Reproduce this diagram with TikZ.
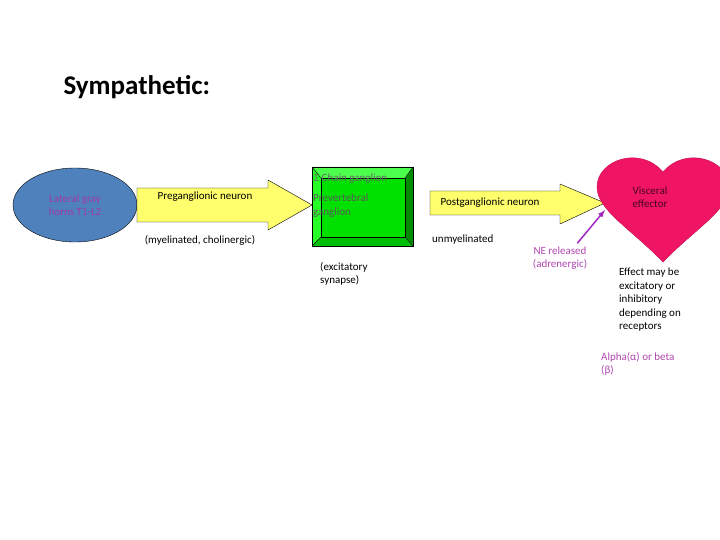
\documentclass[tikz,border=0pt]{standalone}
\usepackage{fontspec}
\setmainfont{Carlito}
\usetikzlibrary{shapes.geometric}
\definecolor{hornblue}{RGB}{79,129,189}
\definecolor{hornpink}{RGB}{160,60,160}
\definecolor{armyellow}{RGB}{255,255,110}
\definecolor{gangreen}{RGB}{0,225,0}
\definecolor{heartred}{RGB}{240,20,100}
\definecolor{nepurple}{RGB}{160,40,190}
\definecolor{notepurple}{RGB}{175,70,175}
\begin{document}
\begin{tikzpicture}[x=1pt,y=-1pt,
	txt/.style = {font=\fontsize{11}{13.5}\selectfont, align=left, inner sep=0pt},
	fibre/.style = {draw, fill=armyellow}]

	\useasboundingbox (0,0) rectangle (720,540);

	\node [font=\fontsize{27}{32}\selectfont\bfseries, anchor=west] (title) at (60,87) {Sympathetic:};

	\node [ellipse, draw, fill=hornblue, minimum width=124pt, minimum height=74pt,
		text=hornpink, txt, align=center] (horn) at (75,205) {Lateral gray\\horns T1-L2};

	% preganglionic arrow
	\draw [fibre] (137,188) -- (268,188) -- (268,180) -- (312,205) -- (268,230)
		-- (268,222) -- (137,222) -- cycle;
	\node [txt] (prelab) at (205,197) {Preganglionic neuron};
	\node [txt] (myel) at (200,240) {(myelinated, cholinergic)};

	% ganglion box with bevel
	\fill [green!70!white] (312,167) -- (413,167) -- (405,178) -- (321,178) -- cycle;
	\fill [green!55!black] (413,167) -- (413,246) -- (405,237) -- (405,178) -- cycle;
	\fill [green!75!black] (312,246) -- (413,246) -- (405,237) -- (321,237) -- cycle;
	\fill [green!85!white] (312,167) -- (321,178) -- (321,237) -- (312,246) -- cycle;
	\node [draw, fill=gangreen, minimum width=84pt, minimum height=59pt, inner sep=0pt] (gang) at (363,207.5) {};
	\draw (312,167) rectangle (413,246);
	\draw (312,167) -- (gang.north west) (413,167) -- (gang.north east)
		(312,246) -- (gang.south west) (413,246) -- (gang.south east);
	\node [txt, text=gray!80!black, anchor=west] (chain) at (314,179) {Σ Chain ganglion};
	\node [txt, text=gray!70!black, anchor=north west] (prev) at (313,194) {Prevertebral\\ganglion};
	\node [txt, anchor=north west] (synapse) at (320,262) {(excitatory\\synapse)};

	% postganglionic arrow
	\draw [fibre] (430,191) -- (560,191) -- (560,184) -- (605,203) -- (560,224)
		-- (560,215) -- (430,215) -- cycle;
	\node [txt] (postlab) at (490,203) {Postganglionic neuron};
	\node [txt, anchor=west] (unmyel) at (432,240) {unmyelinated};

	% heart
	\draw [fill=heartred, draw=heartred!80!black] (663,262)
		.. controls (630,228) and (597,210) .. (597,187)
		.. controls (597,160) and (640,145) .. (663,172)
		.. controls (686,145) and (729,160) .. (729,187)
		.. controls (729,210) and (696,228) .. (663,262) -- cycle;
	\node [txt, align=center, text=black!70!heartred] (eff) at (650,197) {Visceral\\effector};

	\node [txt, align=center, text=notepurple] (ne) at (560,258) {NE released\\(adrenergic)};
	\coordinate (hit) at (605,210);
	\draw [->, >=latex, line width=1.5pt, nepurple] (ne.north east) ++(-10,-3) -- (hit);

	\node [txt, anchor=north west] (effect) at (619,268) {Effect may be\\excitatory or\\inhibitory\\depending on\\receptors};
	\node [txt, anchor=north west, text=notepurple] (alpha) at (601,352) {Alpha(α) or beta\\(β)};
\end{tikzpicture}
\end{document}
